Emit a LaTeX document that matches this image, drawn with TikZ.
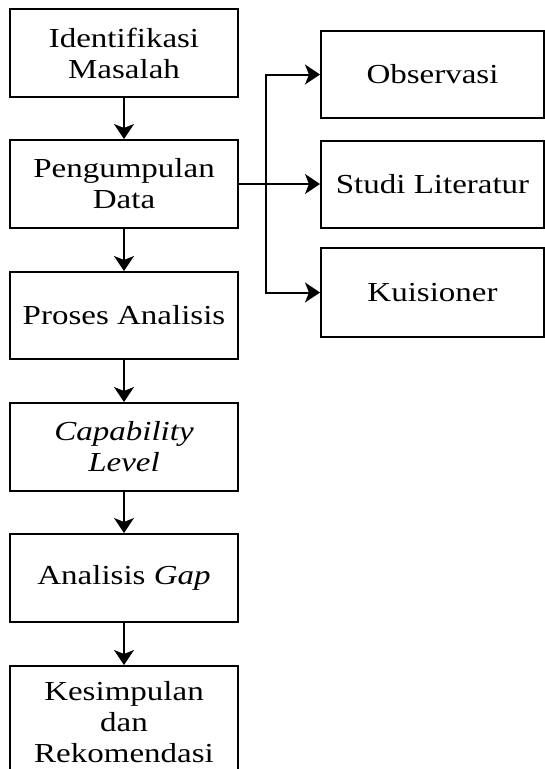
\documentclass[tikz,border=0pt]{standalone}
\usepackage{fontspec}
\setmainfont{Liberation Serif}[FakeStretch=1.2]
\usetikzlibrary{arrows.meta}
\begin{document}
\begin{tikzpicture}[x=1pt,y=-1pt,
  box/.style={draw, line width=2pt, rectangle, inner sep=0pt, align=center,
    font=\fontsize{27.5}{31}\selectfont},
  lbox/.style={box, minimum width=228pt, minimum height=88pt},
  rbox/.style={box, minimum width=223pt, minimum height=87pt},
  arr/.style={line width=2pt, -{Stealth[length=15pt,width=20pt,inset=4pt]}}]
\useasboundingbox (0,0) rectangle (545,769);
\node[lbox] (b1) at (124,53) {Identifikasi\\Masalah};
\node[lbox] (b2) at (124,184) {Pengumpulan\\Data};
\node[lbox, minimum height=87pt] (b3) at (124,315.5) {Proses Analisis};
\node[lbox] (b4) at (124,447) {\textit{Capability}\\\textit{Level}};
\node[lbox] (b5) at (124,578) {Analisis \textit{Gap}};
\node[lbox, minimum height=112pt] (b6) at (124,722) {Kesimpulan\\dan\\Rekomendasi};
\node[rbox] (r1) at (432.5,74.5) {Observasi};
\node[rbox] (r2) at (432.5,184) {Studi Literatur};
\node[rbox, minimum height=89pt] (r3) at (432.5,292.5) {Kuisioner};
\coordinate (j) at (266,184);
\draw[arr] (b1) -- (b2);
\draw[arr] (b2) -- (b3);
\draw[arr] (b3) -- (b4);
\draw[arr] (b4) -- (b5);
\draw[arr] (b5) -- (b6);
\draw[arr] (b2) -- (r2);
\draw[arr] (j) |- (r1);
\draw[arr] (j) |- (r3);
\end{tikzpicture}
\end{document}
